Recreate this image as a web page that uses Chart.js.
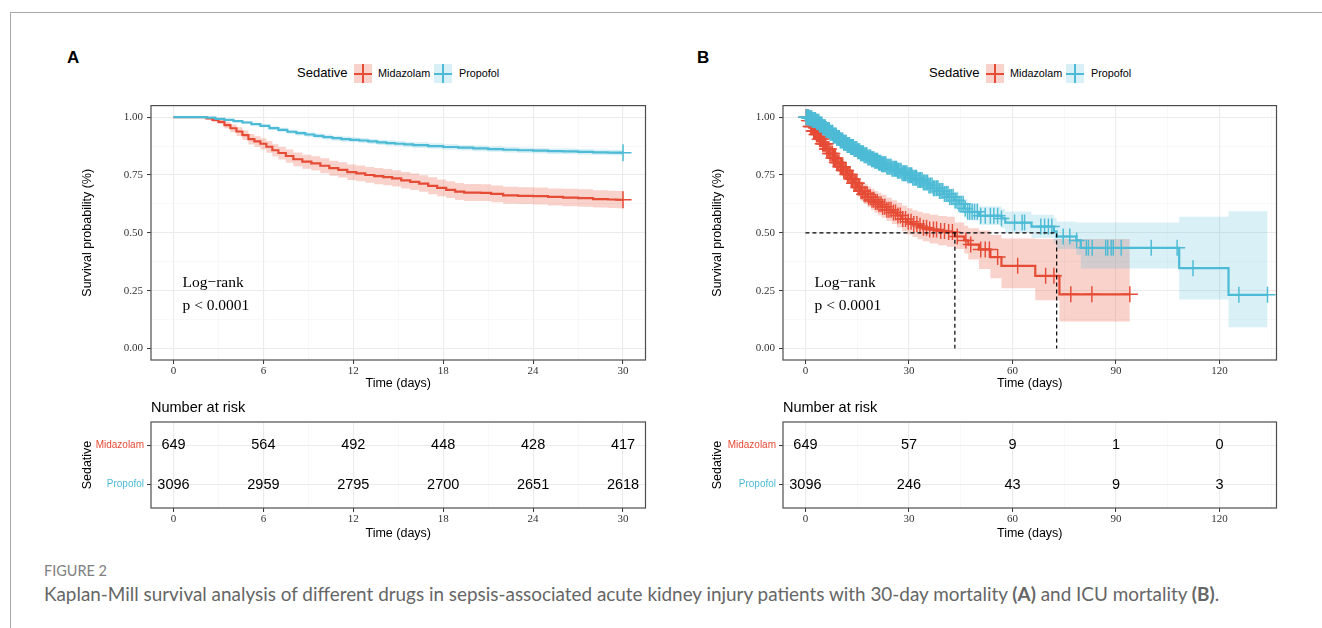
<!DOCTYPE html>
<html><head><meta charset="utf-8">
<script src="https://cdn.jsdelivr.net/npm/chart.js@4.4.1/dist/chart.umd.min.js"></script>
<style>
html,body{margin:0;padding:0;background:#fff;width:1322px;height:628px;overflow:hidden;position:relative;font-family:"Liberation Sans",Arial,sans-serif;}
#frame{position:absolute;left:10px;top:12px;width:1400px;height:700px;border-top:1px solid #a8a8a8;border-left:1px solid #a8a8a8;}
canvas{position:absolute;}
.plabel{position:absolute;font-weight:bold;font-size:17px;line-height:20px;color:#000;}
.lg{position:absolute;line-height:20px;white-space:nowrap;color:#000;}
.lgt{font-size:13px;}
.lgx{font-size:10.8px;}
.key{position:absolute;width:18px;height:19px;}
.key i{position:absolute;display:block;}
.key .h{left:0;right:0;top:8.5px;height:2px;}
.key .v{top:0;bottom:0;left:8.2px;width:1.6px;}
#cap1{position:absolute;left:44px;top:563px;font-family:Lato,"Open Sans",sans-serif;font-size:12.5px;line-height:16px;color:#808080;white-space:nowrap;display:inline-block;}
#cap2{position:absolute;left:44px;top:584px;font-family:Lato,"Open Sans",sans-serif;font-size:16px;line-height:20px;color:#666;white-space:nowrap;display:inline-block;}
</style>
</head>
<body>
<div id="frame"></div>
<div class="plabel" style="left:67px;top:48px">A</div>
<div class="plabel" style="left:697px;top:48px">B</div>

<div class="lg lgt" style="left:297px;top:63px">Sedative</div>
<div class="key" style="left:354px;top:64px;background:rgba(230,75,53,0.25)"><i class="h" style="background:#E64B35"></i><i class="v" style="background:#E64B35"></i></div>
<div class="lg lgx" style="left:378px;top:63px">Midazolam</div>
<div class="key" style="left:434px;top:64px;background:rgba(77,187,213,0.22)"><i class="h" style="background:#4DBBD5"></i><i class="v" style="background:#4DBBD5"></i></div>
<div class="lg lgx" style="left:459px;top:63px">Propofol</div>

<div class="lg lgt" style="left:929px;top:63px">Sedative</div>
<div class="key" style="left:986px;top:64px;background:rgba(230,75,53,0.25)"><i class="h" style="background:#E64B35"></i><i class="v" style="background:#E64B35"></i></div>
<div class="lg lgx" style="left:1010px;top:63px">Midazolam</div>
<div class="key" style="left:1066px;top:64px;background:rgba(77,187,213,0.22)"><i class="h" style="background:#4DBBD5"></i><i class="v" style="background:#4DBBD5"></i></div>
<div class="lg lgx" style="left:1091px;top:63px">Propofol</div>

<canvas id="kmA" width="580" height="296" style="left:80px;top:95px"></canvas>
<canvas id="kmB" width="580" height="296" style="left:710px;top:95px"></canvas>
<canvas id="rkA" width="580" height="146" style="left:80px;top:395px"></canvas>
<canvas id="rkB" width="580" height="146" style="left:710px;top:395px"></canvas>

<div id="cap1">FIGURE 2</div>
<div id="cap2">Kaplan-Mill survival analysis of different drugs in sepsis-associated acute kidney injury patients with 30-day mortality <b>(A)</b> and ICU mortality <b>(B)</b>.</div>

<script>
// ---------------- DATA ----------------
const groups = ['Midazolam', 'Propofol'];
const yTicks = [0, 0.25, 0.5, 0.75, 1];

// Panel A: 30-day mortality
const aTicks = [0, 6, 12, 18, 24, 30];
const aMidT  = [0,2.2,2.6,3.0,3.4,3.8,4.2,4.6,5.0,5.4,5.8,6.2,6.6,7.0,7.5,8.0,8.6,9.2,9.8,10.4,11.0,11.6,12.2,12.8,13.4,14.0,14.6,15.2,15.8,16.4,17.0,17.6,18.2,18.8,19.4,20.5,21.2,22.0,23.0,24.0,25.0,26.0,27.0,28.0,29.0,29.6,30.0];
const aMidS  = [1,.995,.988,.980,.966,.952,.938,.922,.905,.895,.885,.872,.857,.845,.832,.818,.808,.800,.790,.780,.772,.762,.757,.750,.745,.741,.735,.727,.720,.713,.703,.694,.686,.678,.674,.673,.668,.662,.660,.659,.655,.652,.650,.646,.644,.643,.643];
const aMidLo = [1,.990,.979,.969,.952,.935,.919,.901,.882,.871,.860,.846,.830,.817,.803,.788,.777,.769,.758,.747,.739,.728,.723,.716,.710,.706,.700,.692,.685,.677,.667,.658,.650,.642,.638,.637,.632,.626,.624,.622,.618,.615,.613,.609,.607,.606,.606];
const aMidHi = [1,.999,.995,.990,.980,.968,.956,.942,.927,.918,.909,.897,.883,.872,.860,.847,.838,.831,.822,.812,.805,.795,.791,.785,.780,.776,.770,.763,.756,.749,.740,.731,.723,.715,.711,.710,.705,.699,.697,.696,.692,.690,.688,.684,.682,.681,.681];
const aProT  = [0,2.2,2.8,3.4,4.0,4.6,5.2,5.8,6.4,7.0,7.6,8.2,8.8,9.4,10.0,10.6,11.2,11.8,12.4,13.0,13.6,14.2,14.8,15.4,16.0,17.0,18.0,19.0,20.0,21.0,22.0,23.0,24.0,25.0,26.0,27.0,28.0,29.0,30.0];
const aProS  = [1,.998,.993,.988,.983,.977,.970,.962,.953,.945,.937,.931,.925,.919,.914,.909,.905,.902,.899,.895,.891,.888,.885,.882,.879,.875,.871,.868,.865,.862,.859,.857,.855,.853,.852,.850,.848,.847,.846];
const aProLo = [1,.996,.990,.984,.978,.971,.964,.955,.945,.936,.928,.921,.915,.909,.903,.898,.894,.891,.888,.884,.880,.876,.873,.870,.867,.863,.859,.856,.853,.850,.847,.845,.843,.841,.840,.838,.836,.835,.834];
const aProHi = [1,1.0,.996,.992,.988,.983,.976,.969,.961,.954,.946,.941,.935,.929,.925,.920,.916,.913,.910,.906,.902,.900,.897,.894,.891,.887,.883,.880,.877,.874,.871,.869,.867,.865,.864,.862,.860,.859,.858];
const aMidCensor = [30];
const aProCensor = [30];
const aRiskMid = [649, 564, 492, 448, 428, 417];
const aRiskPro = [3096, 2959, 2795, 2700, 2651, 2618];

// Panel B: ICU mortality
const bTicks = [0, 30, 60, 90, 120];
const bMidT  = [0,0.8,1.5,2.2,3.0,4.0,5.0,6.0,7.0,8.0,9.0,10.0,11.0,12.0,13.0,14.0,15.0,16.0,17.0,18.0,19.0,20.0,21.0,22.0,23.5,25.0,26.5,28.0,29.5,31.0,32.5,34.0,36.0,38.5,41.0,43.3,46.0,47.2,50.3,53.6,56.8,66.6,73.6,94.0];
const bMidS  = [1,.985,.960,.940,.925,.905,.885,.862,.843,.823,.804,.786,.769,.752,.733,.714,.696,.680,.667,.654,.643,.633,.623,.613,.600,.588,.575,.560,.548,.538,.530,.522,.514,.508,.503,.484,.467,.449,.428,.395,.357,.314,.234,.234];
const bMidLo = [1,.975,.946,.924,.907,.885,.863,.838,.817,.795,.774,.754,.736,.717,.697,.676,.657,.639,.625,.610,.598,.587,.576,.565,.551,.538,.523,.507,.493,.482,.472,.463,.454,.446,.440,.430,.410,.385,.343,.303,.260,.208,.116,.116];
const bMidHi = [1,.995,.975,.957,.943,.926,.908,.887,.870,.852,.835,.819,.804,.788,.771,.753,.737,.722,.711,.700,.690,.681,.673,.664,.652,.641,.630,.617,.606,.598,.591,.584,.578,.573,.569,.545,.530,.520,.510,.490,.475,.473,.473,.473];
const bProT  = [0,1.0,2.0,3.0,4.0,5.0,6.0,7.0,8.0,9.0,10.0,11.0,12.0,13.0,14.0,15.0,16.0,17.0,18.0,19.0,20.0,21.0,22.0,23.5,25.0,26.5,28.0,29.5,31.0,32.5,34.0,35.5,37.0,38.5,40.0,41.5,43.0,44.5,46.0,47.0,50.3,56.8,57.9,65.5,72.0,72.8,78.5,79.8,108.3,122.6,133.9];
const bProS  = [1,.995,.988,.980,.968,.956,.945,.933,.921,.910,.899,.889,.880,.871,.862,.853,.844,.835,.826,.818,.811,.803,.796,.786,.777,.768,.758,.749,.738,.728,.717,.705,.693,.681,.668,.655,.640,.625,.605,.591,.574,.562,.544,.527,.506,.484,.467,.435,.347,.232,.232];
const bProLo = [1,.992,.984,.975,.962,.949,.937,.924,.911,.899,.887,.876,.866,.856,.846,.836,.826,.816,.806,.797,.789,.780,.772,.761,.751,.741,.730,.720,.708,.697,.685,.672,.659,.646,.632,.618,.602,.586,.565,.553,.534,.520,.500,.478,.455,.430,.405,.346,.212,.092,.092];
const bProHi = [1,.998,.992,.985,.974,.963,.953,.942,.931,.921,.911,.902,.894,.886,.878,.870,.862,.854,.846,.839,.833,.826,.820,.811,.803,.795,.786,.778,.768,.759,.749,.738,.727,.716,.704,.692,.678,.664,.645,.629,.614,.604,.592,.578,.565,.548,.545,.544,.569,.593,.593];
const bMidCensor = [0.2,0.5,0.7,1.0,1.3,1.5,1.8,2.1,2.4,2.6,2.9,3.2,3.5,3.8,4.1,4.4,4.7,5.0,5.3,5.6,5.9,6.2,6.5,6.8,7.1,7.4,7.8,8.1,8.4,8.7,9.1,9.4,9.7,10.1,10.4,10.8,11.1,11.5,11.8,12.2,12.6,12.9,13.3,13.7,14.1,14.5,14.9,15.3,15.7,16.1,16.5,17.0,17.4,17.9,18.3,18.8,19.3,19.8,20.3,20.8,21.3,21.9,22.4,23.0,23.6,24.2,24.8,25.5,26.1,26.8,27.5,28.2,29.0,29.8,30.6,31.4,32.3,33.2,34.2,35.1,36.0,37.1,38.0,39.2,40.3,41.5,42.6,44.0,46.5,47.9,50.8,52.1,53.3,55.7,61.5,69.6,72.0,76.9,83.0,94.0];
const bProCensor = [0.2,0.4,0.6,0.9,1.1,1.3,1.5,1.8,2.0,2.2,2.5,2.7,2.9,3.2,3.4,3.6,3.9,4.1,4.3,4.6,4.8,5.0,5.3,5.5,5.7,6.0,6.2,6.5,6.7,6.9,7.2,7.4,7.7,7.9,8.1,8.4,8.6,8.9,9.1,9.4,9.6,9.8,10.1,10.3,10.6,10.8,11.1,11.3,11.6,11.8,12.1,12.3,12.6,12.8,13.1,13.4,13.6,13.9,14.1,14.4,14.6,14.9,15.2,15.4,15.7,16.0,16.2,16.5,16.8,17.0,17.3,17.6,17.8,18.1,18.4,18.7,18.9,19.2,19.5,19.8,20.1,20.3,20.6,20.9,21.2,21.5,21.8,22.1,22.4,22.7,23.0,23.3,23.6,23.9,24.2,24.5,24.8,25.1,25.4,25.8,26.1,26.4,26.7,27.0,27.4,27.7,28.0,28.4,28.7,29.0,29.4,29.7,30.1,30.4,30.8,31.1,31.5,31.9,32.2,32.6,33.0,33.4,33.8,34.2,34.6,35.0,35.4,35.8,36.2,36.7,37.1,37.5,38.0,38.4,38.9,39.3,39.8,40.3,40.8,41.3,41.8,42.3,42.8,43.4,43.9,44.5,45.1,45.7,46.3,47.0,47.6,48.3,49.0,49.8,50.8,52.1,53.6,54.6,55.7,56.8,60.6,62.8,63.5,68.2,69.3,70.4,71.4,74.7,76.6,78.6,81.4,82.0,83.1,87.0,87.6,88.6,89.2,91.5,100.2,107.7,112.3,125.6,133.9];
const bMedianMid = [43.3];
const bMedianPro = [72.8];
const bRiskMid = [649, 57, 9, 1, 0];
const bRiskPro = [3096, 246, 43, 9, 3];

// ---------------- STYLE ----------------
const RED = '#E64B35', BLUE = '#4DBBD5';
const RED_FILL = 'rgba(230,75,53,0.25)', BLUE_FILL = 'rgba(77,187,213,0.22)';
const SANS = "'Liberation Sans', Arial, sans-serif";
const SERIF = "'Liberation Serif', 'Times New Roman', serif";
const GRID_MAJ = '#EBEBEB', GRID_MIN = '#F3F3F3';
Chart.defaults.font.family = SANS;

const pts = (T, S) => T.map((t, i) => ({x: t, y: S[i]}));
function stepAt(T, S, t) { let v = S[0]; for (let i = 0; i < T.length; i++) { if (T[i] <= t) v = S[i]; else break; } return v; }
const isMajor = (arr, v) => arr.some(m => Math.abs(m - v) < 1e-9);
function halfSteps(major, min, max) {
  const step = major[1] - major[0], out = [];
  for (let v = major[0] - step / 2; v <= max; v += step) if (v >= min) out.push(v);
  return out;
}

function linAxis(o) {
  const all = o.major.concat(o.minor).sort((a, b) => a - b);
  const maj = c => c.tick && isMajor(o.major, c.tick.value);
  return {
    type: 'linear', min: o.min, max: o.max,
    afterBuildTicks: ax => { ax.ticks = all.map(v => ({value: v})); },
    afterFit: ax => { if (o.w != null) ax.width = o.w; if (o.h != null) ax.height = o.h; },
    ticks: {autoSkip: false, maxRotation: 0, minRotation: 0, padding: o.pad, color: '#333',
            font: {family: SERIF, size: 11},
            callback: v => isMajor(o.major, v) ? o.fmt(v) : ''},
    grid: {drawTicks: true, tickLength: 4, tickWidth: 1,
           color: c => maj(c) ? GRID_MAJ : GRID_MIN,
           lineWidth: c => maj(c) ? 1.1 : 0.6,
           tickColor: c => maj(c) ? '#333' : 'rgba(0,0,0,0)'},
    border: {display: false},
    title: {display: true, text: o.title, color: '#000', padding: 0, font: {family: SANS, size: 12.5}}
  };
}

const borderPlugin = {
  id: 'panelBorder',
  afterDraw(chart) {
    const {ctx, chartArea: a} = chart;
    ctx.save(); ctx.strokeStyle = '#4d4d4d'; ctx.lineWidth = 1.2;
    ctx.strokeRect(a.left, a.top, a.right - a.left, a.bottom - a.top); ctx.restore();
  }
};
const pvalPlugin = {
  id: 'pval',
  afterDatasetsDraw(chart, args, o) {
    if (!o || !o.lines) return;
    const ctx = chart.ctx, a = chart.chartArea;
    ctx.save(); ctx.font = '15.5px ' + SERIF; ctx.fillStyle = '#000';
    ctx.textAlign = 'left'; ctx.textBaseline = 'middle';
    o.lines.forEach((s, i) => ctx.fillText(s, a.left + o.dx, a.top + o.dy + i * o.gap));
    ctx.restore();
  }
};
const riskPlugin = {
  id: 'riskNums',
  afterDatasetsDraw(chart) {
    const ctx = chart.ctx;
    ctx.save(); ctx.font = '14.5px ' + SANS; ctx.fillStyle = '#000';
    ctx.textAlign = 'center'; ctx.textBaseline = 'middle';
    chart.data.datasets.forEach((ds, di) => {
      chart.getDatasetMeta(di).data.forEach((el, i) => ctx.fillText(String(ds.data[i].n), el.x, el.y));
    });
    ctx.restore();
  }
};

function kmChart(id, d) {
  // Kaplan-Meier step: value holds until the next event time ('before' = horizontal first)
  const line = (data, extra) => Object.assign({data, stepped: 'before', pointRadius: 0, fill: false, borderColor: 'transparent', borderWidth: 0}, extra);
  const cens = (T, S, C, col, order) => ({data: C.map(t => ({x: t, y: stepAt(T, S, t)})), showLine: false,
      pointStyle: 'cross', pointRadius: d.cr, pointBorderWidth: d.cw, borderColor: col, pointBorderColor: col, backgroundColor: col, order});
  const ds = [
    line(pts(d.midT, d.midHi), {order: 20}),
    line(pts(d.midT, d.midLo), {order: 19, fill: {target: 0}, backgroundColor: RED_FILL}),
    line(pts(d.proT, d.proHi), {order: 18}),
    line(pts(d.proT, d.proLo), {order: 17, fill: {target: 2}, backgroundColor: BLUE_FILL}),
    line(pts(d.midT, d.midS), {order: 16, label: groups[0], borderColor: RED, borderWidth: 2.2}),
    line(pts(d.proT, d.proS), {order: 15, label: groups[1], borderColor: BLUE, borderWidth: 2.2}),
    cens(d.midT, d.midS, d.midC, RED, 14),
    cens(d.proT, d.proS, d.proC, BLUE, 13)
  ];
  (d.medians || []).forEach(m => ds.push({data: m, stepped: false, pointRadius: 0, fill: false, borderColor: '#000', borderWidth: 1.2, borderDash: [4, 3], order: 1}));
  return new Chart(document.getElementById(id), {
    type: 'line',
    data: {datasets: ds},
    options: {
      responsive: false, animation: false, events: [],
      layout: {padding: {top: 7, right: d.padR, bottom: 0, left: 0}},
      plugins: {legend: {display: false}, tooltip: {enabled: false}, pval: {lines: ['Log\u2212rank', 'p < 0.0001'], dx: 31.5, dy: 177.5, gap: 23}},
      scales: {
        x: linAxis({major: d.ticks, minor: halfSteps(d.ticks, d.xmin, d.xmax), min: d.xmin, max: d.xmax, h: 31, pad: 1, fmt: v => String(v), title: 'Time (days)'}),
        y: linAxis({major: yTicks, minor: halfSteps(yTicks, -0.05, 1.05), min: -0.05, max: 1.05, w: d.yw, pad: 4, fmt: v => v.toFixed(2), title: 'Survival probability (%)'})
      }
    },
    plugins: [borderPlugin, pvalPlugin]
  });
}

function riskChart(id, d) {
  const ds = [
    {label: groups[0], data: d.ticks.map((t, i) => ({x: t, y: 2, n: d.mid[i]})), showLine: false, pointRadius: 0},
    {label: groups[1], data: d.ticks.map((t, i) => ({x: t, y: 1, n: d.pro[i]})), showLine: false, pointRadius: 0}
  ];
  return new Chart(document.getElementById(id), {
    type: 'line',
    data: {datasets: ds},
    options: {
      responsive: false, animation: false, events: [],
      layout: {padding: {top: 0, right: d.padR, bottom: 0, left: 0}},
      plugins: {legend: {display: false}, tooltip: {enabled: false},
        title: {display: true, text: 'Number at risk', align: 'start', fullSize: false, color: '#000',
                font: {family: SANS, size: 14.5, weight: 'normal', lineHeight: 1.2}, padding: {top: 4, bottom: 5.6}}},
      scales: {
        x: linAxis({major: d.ticks, minor: halfSteps(d.ticks, d.xmin, d.xmax), min: d.xmin, max: d.xmax, h: 33, pad: 1, fmt: v => String(v), title: 'Time (days)'}),
        y: {
          type: 'linear', min: 0.4, max: 2.6,
          afterBuildTicks: ax => { ax.ticks = [{value: 1}, {value: 2}]; },
          afterFit: ax => { ax.width = d.yw; },
          ticks: {autoSkip: false, padding: 3, font: {family: SANS, size: 10},
                  color: c => (c.tick && c.tick.value === 2) ? RED : BLUE,
                  callback: v => v === 2 ? groups[0] : (v === 1 ? groups[1] : '')},
          grid: {color: GRID_MAJ, lineWidth: 1.1, tickColor: '#333', tickLength: 4, tickWidth: 1},
          border: {display: false},
          title: {display: true, text: 'Sedative', color: '#000', padding: 0, font: {family: SANS, size: 12.5}}
        }
      }
    },
    plugins: [borderPlugin, riskPlugin]
  });
}

kmChart('kmA', {midT: aMidT, midS: aMidS, midLo: aMidLo, midHi: aMidHi, proT: aProT, proS: aProS, proLo: aProLo, proHi: aProHi,
  midC: aMidCensor, proC: aProCensor, ticks: aTicks, xmin: -1.5, xmax: 31.5, yw: 71, padR: 14.5, cw: 1.5, cr: 8.5});
kmChart('kmB', {midT: bMidT, midS: bMidS, midLo: bMidLo, midHi: bMidHi, proT: bProT, proS: bProS, proLo: bProLo, proHi: bProHi,
  midC: bMidCensor, proC: bProCensor, ticks: bTicks, xmin: -6.5, xmax: 136.5, yw: 73, padR: 13.5, cw: 1.45, cr: 8,
  medians: [
    [{x: 0, y: 0.5}, {x: bMedianPro[0], y: 0.5}, {x: bMedianPro[0], y: 0}],
    [{x: bMedianMid[0], y: 0.5}, {x: bMedianMid[0], y: 0}]
  ]});
riskChart('rkA', {ticks: aTicks, mid: aRiskMid, pro: aRiskPro, xmin: -1.5, xmax: 31.5, yw: 71, padR: 14.5});
riskChart('rkB', {ticks: bTicks, mid: bRiskMid, pro: bRiskPro, xmin: -6.5, xmax: 136.5, yw: 73, padR: 13.5});

function fitText(id, target) {
  const el = document.getElementById(id);
  const fs = parseFloat(getComputedStyle(el).fontSize);
  const w = el.getBoundingClientRect().width;
  if (w > 0) el.style.fontSize = (fs * target / w).toFixed(2) + 'px';
}
function fitCaps() { fitText('cap1', 63); fitText('cap2', 1176); }
fitCaps();
</script>
</body></html>
